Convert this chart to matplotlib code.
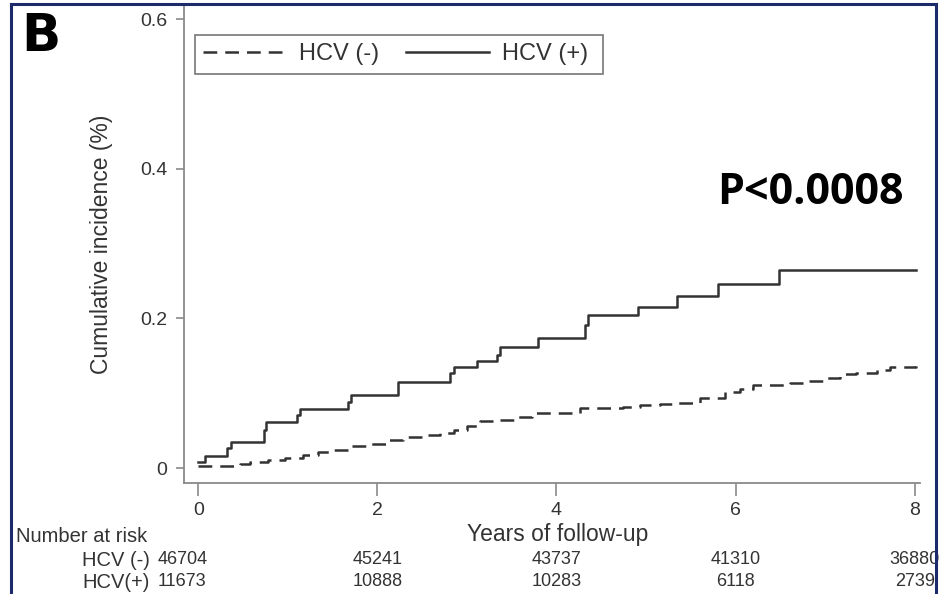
import numpy as np
import matplotlib.pyplot as plt
from matplotlib.lines import Line2D

plt.rcParams['font.family'] = ['Liberation Sans', 'DejaVu Sans']

# step curves: (years, cumulative incidence)
neg_t = [0.00, 0.47, 0.58, 0.78, 0.97, 1.17, 1.34, 1.47, 1.70, 1.90, 2.12, 2.29,
         2.51, 2.70, 2.85, 3.00, 3.15, 3.34, 3.54, 3.73, 4.26, 4.74, 4.93, 5.16,
         5.35, 5.60, 5.88, 6.05, 6.20, 6.61, 6.80, 7.02, 7.17, 7.35, 7.58, 7.72, 8.02]
neg_v = [0.003, 0.005, 0.008, 0.011, 0.013, 0.017, 0.021, 0.024, 0.029, 0.032, 0.037, 0.041,
         0.044, 0.047, 0.051, 0.056, 0.063, 0.064, 0.068, 0.074, 0.080, 0.082, 0.084, 0.086,
         0.087, 0.094, 0.102, 0.106, 0.111, 0.114, 0.116, 0.120, 0.126, 0.127, 0.131, 0.135, 0.136]

pos_t = [0.00, 0.08, 0.32, 0.36, 0.73, 0.76, 1.10, 1.14, 1.67, 1.71, 2.23, 2.81,
         2.85, 3.11, 3.34, 3.37, 3.79, 4.32, 4.35, 4.91, 5.35, 5.80, 6.48, 8.02]
pos_v = [0.008, 0.016, 0.027, 0.035, 0.051, 0.062, 0.071, 0.079, 0.088, 0.098, 0.115, 0.127,
         0.135, 0.143, 0.151, 0.162, 0.174, 0.191, 0.205, 0.215, 0.230, 0.246, 0.265, 0.265]

risk_years = [0, 2, 4, 6, 8]
risk_neg = [46704, 45241, 43737, 41310, 36880]
risk_pos = [11673, 10888, 10283, 6118, 2739]

W, H = 947, 594
fig = plt.figure(figsize=(W / 100, H / 100), dpi=100)

def fx(px):
    return px / W

def fy(py):
    return 1 - py / H

ax = fig.add_axes([fx(184), fy(483), fx(920) - fx(184), fy(5) - fy(483)])
ax.set_xlim(-0.16, 8.06)
ax.set_ylim(-0.02, 0.619)

ink = '#333333'
axc = '#8a8a8a'
ax.step(neg_t, neg_v, where='post', color=ink, lw=1.8, dashes=(5.5, 3.2))
ax.step(pos_t, pos_v, where='post', color=ink, lw=1.8)

for s in ['top', 'right']:
    ax.spines[s].set_visible(False)
for s in ['left', 'bottom']:
    ax.spines[s].set_color(axc)
    ax.spines[s].set_linewidth(1.3)

ax.set_yticks([0, 0.2, 0.4, 0.6])
ax.set_yticklabels(['0', '0.2', '0.4', '0.6'])
ax.set_xticks(risk_years)
ax.tick_params(axis='y', direction='out', length=6, width=1.2, color=axc,
               labelsize=14, labelcolor=ink, pad=6)
ax.tick_params(axis='x', direction='out', length=9, width=1.2, color=axc,
               labelsize=14, labelcolor=ink, pad=5)
ax.set_ylabel('Cumulative incidence (%)', fontsize=16.5, color=ink)
ax.yaxis.set_label_coords(-0.0965, 0.5)
ax.set_xlabel('Years of follow-up', fontsize=16.5, color=ink)
ax.xaxis.set_label_coords(0.508, -0.084)

handles = [Line2D([], [], color=ink, lw=1.8, dashes=(5.5, 3.2)),
           Line2D([], [], color=ink, lw=1.8)]
leg = ax.legend(handles, ['HCV (-)', 'HCV (+) '], ncol=2, loc='upper left',
                bbox_to_anchor=((195 - 184) / (920 - 184), (483 - 35) / (483 - 5)),
                fontsize=17, handlelength=3.5, handletextpad=0.55, columnspacing=1.15,
                borderpad=0.35, fancybox=False, framealpha=1, edgecolor='#777777',
                labelcolor=ink, borderaxespad=0)
leg.get_frame().set_linewidth(1.2)

ax.text(6.84, 0.369, 'P<0.0008', fontsize=31, fontweight='bold', family='Open Sans',
        color='black', ha='center', va='center')

# number at risk table
fig.text(fx(16), fy(536), 'Number at risk', fontsize=14.5, color=ink, va='center')
fig.text(fx(150), fy(560), 'HCV (-)', fontsize=14.5, color=ink, va='center', ha='right')
fig.text(fx(150), fy(582), 'HCV(+)', fontsize=14.5, color=ink, va='center', ha='right')
trans = ax.get_xaxis_transform()
for i, yr in enumerate(risk_years):
    # first column sits a little left of its tick
    xx = yr - (0.18 if yr == 0 else 0)
    ax.text(xx, (483 - 560) / (483 - 5), str(risk_neg[i]), transform=trans, fontsize=13,
            color=ink, ha='center', va='center', clip_on=False)
    ax.text(xx, (483 - 582) / (483 - 5), str(risk_pos[i]), transform=trans, fontsize=13,
            color=ink, ha='center', va='center', clip_on=False)

fig.text(fx(21), fy(37), 'B', fontsize=37, fontweight='bold', family='DejaVu Sans',
         color='black', va='center')

# frame around the panel
navy = '#1c2a6b'
fig.add_artist(Line2D([fx(11), fx(11)], [0, fy(4)], color=navy, lw=2.2))
fig.add_artist(Line2D([fx(11), fx(936)], [fy(4), fy(4)], color=navy, lw=2.2))
fig.add_artist(Line2D([fx(936), fx(936)], [0, fy(4)], color=navy, lw=2.2))

fig.savefig('out.png', dpi=100)
